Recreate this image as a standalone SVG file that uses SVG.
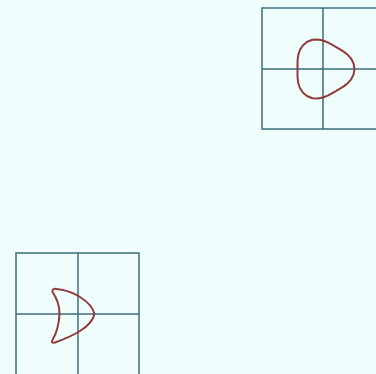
<svg xmlns="http://www.w3.org/2000/svg" width="376" height="374" viewBox="0 0 376 374">
<style>
.grid{fill:none;stroke:#3d6b7a;stroke-width:1.5}
.curve{fill:none;stroke:#923a3a;stroke-width:2;stroke-linejoin:round}
</style>
<rect width="376" height="374" fill="#f0fdfd"/>
<g id="panel-top-right">
<rect class="grid" x="262" y="8" width="122" height="121"/>
<line class="grid" x1="323" y1="8" x2="323" y2="129"/>
<line class="grid" x1="262" y1="69" x2="384" y2="69"/>
<path class="curve" d="M354.5,69 L353.6,63.6 351.2,58.7 347.7,54.8 343.7,51.6 339.6,49.2 335.8,46.9 331.9,44.7 327.7,42.4 323,40.5 317.8,39.5 312.4,39.8 307.3,41.7 303,45.2 300,49.7 298.3,54.8 297.6,59.8 297.5,64.5 297.5,69 297.5,73.5 297.6,78.2 298.3,83.2 300,88.3 303,92.8 307.3,96.3 312.4,98.2 317.8,98.5 323,97.5 327.7,95.6 331.9,93.3 335.8,91.1 339.6,88.8 343.7,86.4 347.7,83.2 351.2,79.3 353.6,74.4 Z"/>
</g>
<g id="panel-bottom-left">
<rect class="grid" x="16" y="253" width="123" height="125"/>
<line class="grid" x1="78" y1="253" x2="78" y2="378"/>
<line class="grid" x1="16" y1="314" x2="139" y2="314"/>
<path class="curve" d="M52.5,292 C52,289 54,288.5 57,289 C65,290 74,293 80,297 C88,302 93,308 94.5,314 C93,321 88,326 80,331 C72,336 62,340 55,342.5 C52,343 51,342 52.5,340 C56,334 59,325 59.5,314 C59.5,305 56,297 52.5,292 Z"/>
</g>
</svg>
